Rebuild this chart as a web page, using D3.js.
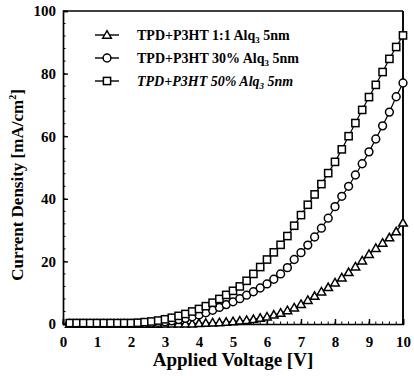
<!DOCTYPE html>
<html lang="en">
  <head>
    <meta charset="utf-8" />
    <title>J-V curves</title>
    <script type="text/javascript" src="https://cdn.jsdelivr.net/npm/d3@7"></script>
    <style type="text/css">
      body { margin: 0; background: #fff; }
      text { font-family: "Liberation Serif", "DejaVu Serif", serif; font-weight: bold; fill: #000; }
    </style>
  </head>

  <body>
    <script type="text/javascript">
      // voltage steps 0.2 .. 10.0
      const voltage = d3.range(1, 51).map(function (i) { return +(i * 0.2).toFixed(1); });

      // TPD+P3HT 1:1 Alq3 5nm (triangles)
      const seriesA = [
        0, 0, 0, 0, 0, 0, 0, 0, 0, 0,
        0, 0, 0, 0, 0.05, 0.05, 0.1, 0.1, 0.1, 0.2,
        0.3, 0.4, 0.5, 0.6, 0.8, 1.0, 1.2, 1.5, 1.9, 2.3,
        2.9, 3.5, 4.3, 5.2, 6.3, 7.6, 8.9, 10.3, 11.7, 13.2,
        14.8, 16.5, 18.3, 20.2, 22.3, 24.2, 25.9, 27.6, 29.5, 32.3
      ];
      // TPD+P3HT 30% Alq3 5nm (circles)
      const seriesB = [
        0.2, 0.2, 0.2, 0.2, 0.2, 0.2, 0.2, 0.2, 0.2, 0.2,
        0.2, 0.2, 0.3, 0.5, 0.7, 1.0, 1.4, 1.8, 2.3, 2.9,
        3.6, 4.4, 5.3, 6.2, 7.1, 8.1, 9.2, 10.3, 11.5, 12.8,
        14.3, 16.0, 18.0, 20.6, 22.8, 25.2, 27.8, 30.6, 33.8, 37.5,
        40.8, 44.0, 47.6, 51.2, 55.0, 59.1, 63.3, 67.7, 72.6, 77.0
      ];
      // TPD+P3HT 50% Alq3 5nm (squares)
      const seriesC = [
        0.3, 0.3, 0.3, 0.3, 0.3, 0.3, 0.3, 0.3, 0.3, 0.3,
        0.4, 0.6, 0.8, 1.1, 1.5, 2.0, 2.6, 3.2, 4.0, 4.8,
        5.7, 6.8, 8.0, 9.3, 10.6, 12.0, 13.8, 16.0, 18.2, 20.6,
        22.9, 25.3, 28.1, 31.4, 34.8, 38.1, 41.4, 44.7, 48.2, 51.8,
        55.8, 60.0, 64.2, 68.4, 72.5, 76.4, 80.5, 84.7, 88.5, 92.2
      ];

      const xTicks = [0, 1, 2, 3, 4, 5, 6, 7, 8, 9, 10];
      const yTicks = [0, 20, 40, 60, 80, 100];

      const series = [
        { name: "TPD+P3HT 1:1 Alq", tail: " 5nm", italic: false, shape: "triangle", values: seriesA },
        { name: "TPD+P3HT 30% Alq", tail: " 5nm", italic: false, shape: "circle", values: seriesB },
        { name: "TPD+P3HT 50% Alq", tail: " 5nm", italic: true, shape: "square", values: seriesC }
      ];

      const W = 414, H = 376;
      const mLeft = 63, mRight = 403, mTop = 11, mBottom = 324;

      const svg = d3.select("body").append("svg")
        .attr("width", W)
        .attr("height", H);

      const x = d3.scaleLinear().domain([0, 10]).range([mLeft, mRight]);
      const y = d3.scaleLinear().domain([0, 100]).range([mBottom, mTop]);

      // axes with inward ticks
      const xAxis = svg.append("g")
        .attr("transform", "translate(0," + mBottom + ")")
        .call(d3.axisBottom(x).tickValues(xTicks).tickSize(-5).tickPadding(12).tickFormat(d3.format("d")));
      const yAxis = svg.append("g")
        .attr("transform", "translate(" + mLeft + ",0)")
        .call(d3.axisLeft(y).tickValues(yTicks).tickSize(-5).tickPadding(7).tickFormat(d3.format("d")));

      [xAxis, yAxis].forEach(function (g) {
        g.select(".domain").attr("stroke", "#000").attr("stroke-width", 1.7);
        g.selectAll(".tick line").attr("stroke", "#000").attr("stroke-width", 1.4);
        g.selectAll(".tick text").attr("font-size", 15).attr("font-family", "Liberation Serif").attr("font-weight", "bold");
      });

      // minor ticks
      svg.append("g").selectAll("line")
        .data(d3.range(0, 10.01, 0.2))
        .enter().append("line")
        .attr("x1", function (d) { return x(d); })
        .attr("x2", function (d) { return x(d); })
        .attr("y1", mBottom)
        .attr("y2", mBottom - 2.5)
        .attr("stroke", "#000").attr("stroke-width", 1);
      svg.append("g").selectAll("line")
        .data(d3.range(0, 100.01, 4))
        .enter().append("line")
        .attr("x1", mLeft)
        .attr("x2", mLeft + 2.5)
        .attr("y1", function (d) { return y(d); })
        .attr("y2", function (d) { return y(d); })
        .attr("stroke", "#000").attr("stroke-width", 1);

      // top and right frame
      svg.append("line").attr("x1", mLeft).attr("x2", mRight).attr("y1", mTop).attr("y2", mTop)
        .attr("stroke", "#000").attr("stroke-width", 1.3);
      svg.append("line").attr("x1", mRight).attr("x2", mRight).attr("y1", mTop).attr("y2", mBottom)
        .attr("stroke", "#000").attr("stroke-width", 1.9);

      // markers
      function drawMarker(g, shape, cx, cy) {
        if (shape === "circle") {
          g.append("circle").attr("cx", cx).attr("cy", cy).attr("r", 3.9);
        } else if (shape === "square") {
          g.append("rect").attr("x", cx - 3.6).attr("y", cy - 3.6).attr("width", 7.2).attr("height", 7.2);
        } else {
          g.append("path").attr("d", "M" + cx + "," + (cy - 4.3) + "L" + (cx + 4.3) + "," + (cy + 3.2) + "L" + (cx - 4.3) + "," + (cy + 3.2) + "Z");
        }
      }

      const line = d3.line()
        .x(function (d, i) { return x(voltage[i]); })
        .y(function (d) { return y(d); });

      series.forEach(function (s) {
        svg.append("path")
          .datum(s.values)
          .attr("d", line)
          .attr("fill", "none")
          .attr("stroke", "#000")
          .attr("stroke-width", 1.2);
        const g = svg.append("g")
          .attr("fill", "#fff")
          .attr("stroke", "#000")
          .attr("stroke-width", 1.5);
        s.values.forEach(function (v, i) {
          drawMarker(g, s.shape, x(voltage[i]), y(v));
        });
      });

      // legend
      const legendY = [35, 58, 81];
      series.forEach(function (s, i) {
        const ly = legendY[i];
        svg.append("line").attr("x1", 95).attr("x2", 119).attr("y1", ly).attr("y2", ly)
          .attr("stroke", "#000").attr("stroke-width", 1.4);
        const g = svg.append("g").attr("fill", "#fff").attr("stroke", "#000").attr("stroke-width", 1.5);
        drawMarker(g, s.shape, 107, ly);
        const t = svg.append("text")
          .attr("x", 137).attr("y", ly + 5)
          .attr("font-size", 14)
          .attr("font-style", s.italic ? "italic" : "normal")
          .text(s.name);
        t.append("tspan").attr("font-size", 9).attr("dy", 3).text("3");
        t.append("tspan").attr("dy", -3).text(s.tail);
      });

      // axis titles
      svg.append("text")
        .attr("x", (mLeft + mRight) / 2)
        .attr("y", 366)
        .attr("text-anchor", "middle")
        .attr("font-size", 19)
        .text("Applied Voltage [V]");

      const yl = svg.append("text")
        .attr("transform", "translate(23,185) rotate(-90)")
        .attr("text-anchor", "middle")
        .attr("font-size", 17)
        .text("Current Density [mA/cm");
      yl.append("tspan").attr("font-size", 10).attr("dy", -7).text("2");
      yl.append("tspan").attr("dy", 7).text("]");
    </script>
  </body>
</html>
